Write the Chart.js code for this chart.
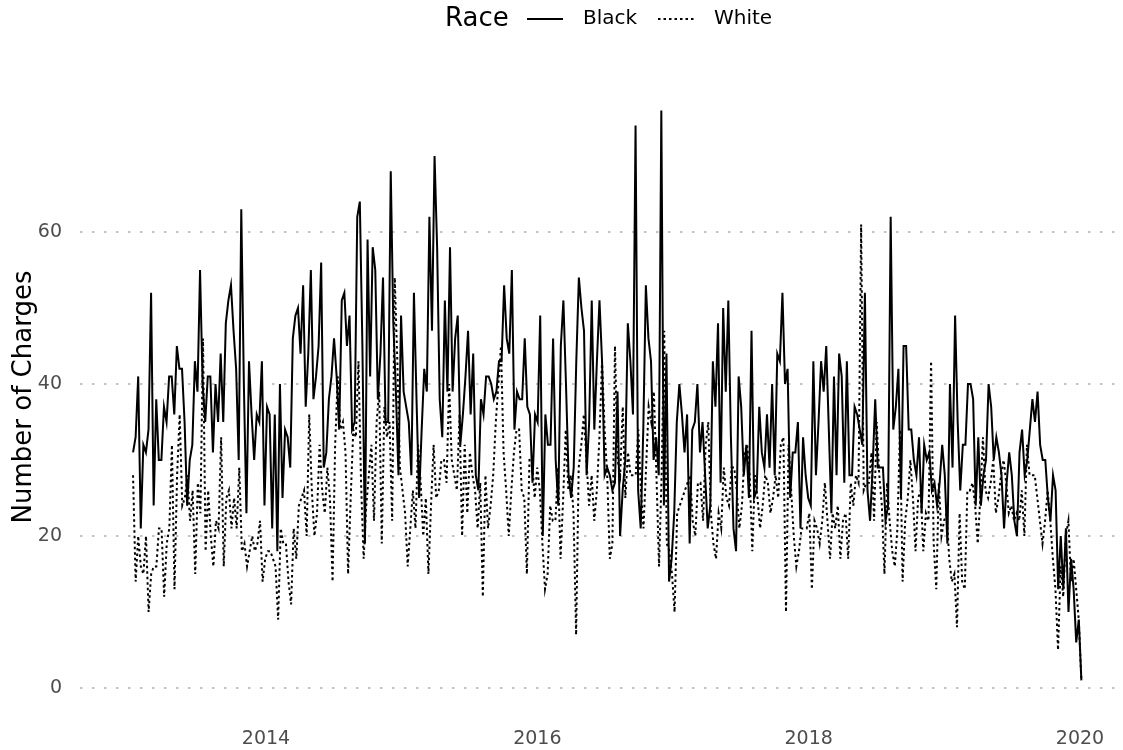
<!DOCTYPE html>
<html>
<head>
<meta charset="utf-8">
<script src="https://cdn.jsdelivr.net/npm/chart.js@4/dist/chart.umd.min.js"></script>
<style>
    html, body { margin: 0; padding: 0; background: #fff; }
    #wrap { width: 1123px; height: 750px; }
</style>
</head>
<body>
<div id="wrap"><canvas id="chart" width="1123" height="750"></canvas></div>
<script>
// weekly charge counts
const blackCharges = [
    31,33,41,21,32,31,34,52,24,38,30,30,37,35,41,41,36,45,42,42,35,24,30,32,43,39,55,40,35,41,
    41,31,40,35,44,35,48,51,53,47,42,30,63,40,23,43,36,30,36,35,43,24,37,36,21,36,18,40,25,34,33,
    29,46,49,50,44,53,37,44,55,38,41,45,56,29,31,38,41,46,41,34,51,52,45,49,34,35,62,64,45,19,59,
    41,58,55,38,44,54,35,35,68,48,39,28,49,39,37,35,28,52,38,25,34,42,39,62,47,70,58,38,33,51,
    39,58,39,46,49,32,36,41,47,36,44,28,26,38,36,41,41,40,38,39,43,43,53,46,44,55,34,39,38,38,46,
    37,36,27,36,35,49,20,36,32,32,46,30,24,45,51,40,28,25,29,43,54,50,47,28,35,51,34,43,51,43,28,
    29,28,26,27,39,20,26,30,48,43,36,74,26,21,34,53,46,43,30,33,28,76,24,44,14,17,23,35,40,36,31,36,
    19,34,35,40,31,35,28,21,24,43,37,48,27,50,39,51,33,21,18,41,37,28,32,25,47,25,26,37,31,29,36,
    29,40,28,44,43,52,40,42,25,31,31,35,21,33,28,25,24,43,28,35,43,39,45,34,23,41,28,44,41,27,43,
    28,28,37,36,34,32,52,26,22,29,38,29,29,29,22,24,62,34,37,42,25,45,45,34,34,30,28,33,23,32,
    30,31,26,27,24,27,32,28,19,40,29,49,35,26,32,32,40,40,38,24,33,24,28,30,40,37,30,33,31,28,21,
    27,31,28,22,20,31,34,28,30,34,38,35,39,32,30,30,25,22,28,26,13,20,13,21,10,17,13,6,9,1
];

const whiteCharges = [
    28,14,20,16,15,20,10,15,16,16,21,21,12,19,21,32,13,28,36,24,25,28,22,26,15,27,23,46,18,26,
    20,16,22,21,33,16,25,26,21,25,21,29,18,19,16,18,20,18,19,22,14,17,18,18,17,16,9,21,19,19,14,
    11,21,17,24,25,26,20,36,26,20,23,32,26,23,29,25,14,32,41,34,35,31,15,25,34,33,43,27,17,24,28,
    32,22,35,39,19,37,33,35,22,54,43,29,26,23,16,21,26,21,32,27,20,25,15,24,32,25,26,30,30,27,40,
    30,28,26,36,20,32,23,31,28,26,21,27,12,28,21,24,28,35,40,45,31,26,20,26,31,34,34,26,25,15,30,
    30,25,29,26,19,13,15,24,22,22,29,17,25,34,26,28,23,7,29,32,36,30,24,28,22,26,33,43,34,28,17,
    19,45,30,28,37,25,31,28,28,28,34,26,21,29,37,35,39,28,16,28,47,19,18,15,10,23,24,25,26,27,28,
    22,20,27,27,22,32,35,23,19,17,23,21,29,25,24,29,29,26,21,24,31,32,28,18,28,25,21,24,28,27,23,
    25,28,25,32,33,10,32,26,20,16,18,21,21,21,23,13,22,21,19,22,27,22,17,23,21,24,17,22,23,17,27,
    24,28,27,61,26,27,27,31,22,35,28,24,15,27,22,18,16,21,34,14,22,25,30,25,18,25,26,18,23,22,43,
    19,13,27,20,22,23,17,14,15,8,23,14,13,26,26,27,24,19,25,33,26,25,27,30,23,25,28,30,27,23,
    24,22,23,22,26,20,32,28,28,28,25,22,19,22,26,22,17,13,5,16,12,20,22,14,17,13,9,1
];

// first and last week of the series, as decimal years
const firstWeek = 2013.02;
const lastWeek = 2020.01;

const yearTicks = [2014, 2016, 2018, 2020];
const countTicks = [0, 20, 40, 60];

const seriesNames = ['Black', 'White'];
const legendTitle = 'Race';

const FONT = "'DejaVu Sans', Verdana, sans-serif";

function weeklyPoints(values)
{
    const step = (lastWeek - firstWeek) / (values.length - 1);
    return values.map((v, i) => ({ x: firstWeek + i * step, y: v }));
}

function lineDataset(label, values, dash)
{
    return {
        label: label,
        data: weeklyPoints(values),
        borderColor: '#000',
        borderWidth: 2,
        borderDash: dash,
        pointRadius: 0,
        tension: 0,
        fill: false
    };
}

// ggplot style legend on one line: title, then key + label per series
const raceLegend = {
    id: 'raceLegend',
    afterDraw(chart)
    {
        const ctx = chart.ctx;
        const y = 19;
        ctx.save();
        ctx.fillStyle = '#000';
        ctx.textBaseline = 'middle';
        ctx.font = '26px ' + FONT;
        ctx.fillText(legendTitle, 445, y);

        const keyX = [527, 658];
        ctx.font = '20px ' + FONT;
        chart.data.datasets.forEach((ds, i) =>
        {
            ctx.strokeStyle = '#000';
            ctx.lineWidth = 2;
            ctx.setLineDash(ds.borderDash);
            ctx.beginPath();
            ctx.moveTo(keyX[i], y);
            ctx.lineTo(keyX[i] + 36, y);
            ctx.stroke();
            ctx.setLineDash([]);
            ctx.fillText(ds.label, keyX[i] + 56, y);
        });
        ctx.restore();
    }
};

const chart = new Chart(document.getElementById('chart'), {
    type: 'line',
    data: {
        datasets: [
            lineDataset(seriesNames[0], blackCharges, []),
            lineDataset(seriesNames[1], whiteCharges, [2.5, 3])
        ]
    },
    options: {
        responsive: false,
        animation: false,
        layout: { padding: { top: 82, right: 5, left: 0, bottom: 0 } },
        plugins: {
            legend: { display: false },
            tooltip: { enabled: false }
        },
        scales: {
            x: {
                type: 'linear',
                min: 2012.629,
                max: 2020.28,
                afterBuildTicks: (scale) => { scale.ticks = yearTicks.map(v => ({ value: v })); },
                afterFit: (scale) => { scale.height = 38; },
                grid: { display: false, drawTicks: false },
                border: { display: false },
                ticks: {
                    padding: 16,
                    color: '#4d4d4d',
                    font: { family: FONT, size: 19 },
                    callback: (v) => String(v)
                }
            },
            y: {
                min: -3.16,
                max: 79.74,
                afterBuildTicks: (scale) => { scale.ticks = countTicks.map(v => ({ value: v })); },
                afterFit: (scale) => { scale.width = 80; },
                grid: {
                    color: '#c4c4c4',
                    lineWidth: 2,
                    drawTicks: false
                },
                border: { display: false, dash: [2.5, 9.5] },
                ticks: {
                    padding: 18,
                    color: '#4d4d4d',
                    font: { family: FONT, size: 19 }
                },
                title: {
                    display: true,
                    text: 'Number of Charges',
                    color: '#000',
                    font: { family: FONT, size: 26 },
                    padding: { top: 9, bottom: 0 }
                }
            }
        }
    },
    plugins: [raceLegend]
});
</script>
</body>
</html>
